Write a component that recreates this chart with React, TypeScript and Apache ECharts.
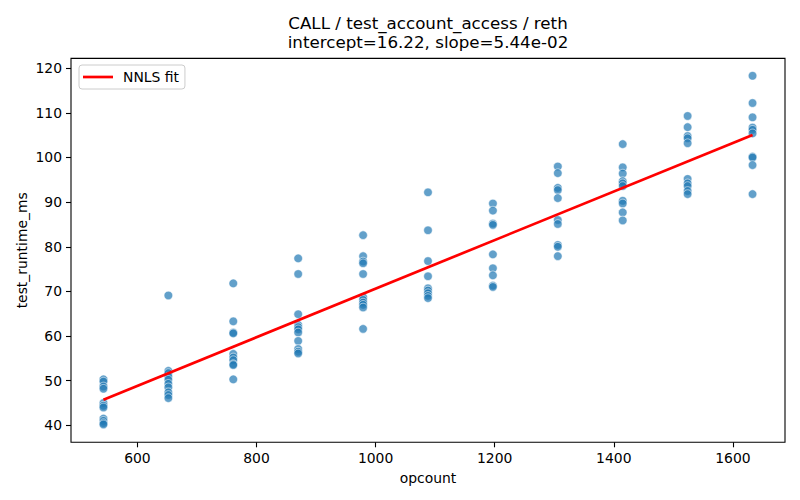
import React, { useEffect, useRef } from "react";
import * as echarts from "echarts";

const OPCOUNTS = [543, 652, 761, 870, 979, 1088, 1197, 1306, 1415, 1524, 1633];
const RUNTIMES: number[][] = [
  [50.3, 49.8, 48.7, 48.2, 45.0, 44.4, 44.0, 41.5, 41.0, 40.5, 40.2],
  [69.1, 52.2, 51.7, 50.9, 50.2, 49.3, 48.5, 47.4, 46.8, 46.1],
  [71.8, 63.3, 60.8, 60.6, 56.0, 55.2, 54.6, 53.7, 53.5, 50.3],
  [77.4, 73.9, 64.9, 62.5, 62.0, 61.5, 60.8, 58.9, 57.1, 56.5, 56.1],
  [82.6, 77.9, 76.7, 76.3, 73.9, 68.7, 68.1, 67.5, 67.0, 66.4, 61.6],
  [92.2, 83.7, 76.8, 73.4, 70.7, 70.2, 69.6, 69.0, 68.5],
  [89.7, 88.1, 85.2, 84.9, 78.3, 75.2, 73.6, 71.3, 71.0],
  [98.0, 96.5, 93.2, 92.7, 90.9, 86.0, 85.1, 80.4, 80.0, 77.9],
  [103.0, 97.8, 96.4, 94.7, 94.2, 93.6, 90.3, 89.7, 87.7, 85.9],
  [109.3, 106.8, 104.8, 104.3, 103.2, 95.2, 94.2, 93.6, 92.5, 91.8],
  [118.3, 112.2, 109.0, 106.7, 106.2, 105.4, 100.2, 100.0, 98.3, 91.8],
];
const INTERCEPT = 16.22;
const SLOPE = 0.0544;
const FIT_X = [543, 1633];
const X_TICKS = [600, 800, 1000, 1200, 1400, 1600];
const Y_TICKS = [40, 50, 60, 70, 80, 90, 100, 110, 120];
const TITLE = "CALL / test_account_access / reth\nintercept=16.22, slope=5.44e-02";

const FONT = "DejaVu Sans";

export default function App() {
  const ref = useRef<HTMLDivElement>(null);
  useEffect(() => {
    if (!ref.current) return;
    const chart = echarts.init(ref.current, null, { renderer: "svg" });
    const scatterData: number[][] = [];
    OPCOUNTS.forEach((x, i) => RUNTIMES[i].forEach((y) => scatterData.push([x, y])));
    const fitData = FIT_X.map((x) => [x, INTERCEPT + SLOPE * x]);
    chart.setOption({
      animation: false,
      backgroundColor: "#ffffff",
      textStyle: { fontFamily: FONT },
      title: {
        text: TITLE,
        left: 428,
        top: 13,
        padding: 0,
        textAlign: "center",
        textStyle: { fontFamily: FONT, fontSize: 16.7, fontWeight: "normal", color: "#000", lineHeight: 19.5 },
      },
      legend: {
        left: 79,
        top: 65,
        orient: "vertical",
        padding: [5, 6, 5, 4],
        borderColor: "#cccccc",
        borderWidth: 1,
        borderRadius: 3,
        backgroundColor: "rgba(255,255,255,0.8)",
        icon: "rect",
        itemWidth: 30,
        itemHeight: 2.7,
        textStyle: { fontFamily: FONT, fontSize: 13.9, color: "#000", padding: [0, 0, 0, 5] },
        data: [{ name: "NNLS fit", itemStyle: { color: "#ff0000" } }],
      },
      grid: {
        left: 71,
        right: 15,
        top: 58.4,
        bottom: 57.7,
        show: true,
        borderColor: "#000",
        borderWidth: 1.1,
        backgroundColor: "transparent",
      },
      xAxis: {
        type: "value",
        min: 488.5,
        max: 1687.5,
        name: "opcount",
        nameLocation: "middle",
        nameGap: 29,
        nameMoveOverlap: false,
        nameTextStyle: { fontFamily: FONT, fontSize: 13.9, color: "#000" },
        axisLine: { show: false },
        splitLine: { show: false },
        axisTick: { show: true, length: 5, lineStyle: { color: "#000", width: 1.1 }, customValues: X_TICKS },
        axisLabel: {
          fontFamily: FONT,
          fontSize: 13.9,
          color: "#000",
          margin: 9,
          customValues: X_TICKS,
          formatter: (v: number) => String(v),
        },
      },
      yAxis: {
        type: "value",
        min: 36.2,
        max: 122.2,
        name: "test_runtime_ms",
        nameLocation: "middle",
        nameRotate: 90,
        nameGap: 42,
        nameMoveOverlap: false,
        nameTextStyle: { fontFamily: FONT, fontSize: 13.9, color: "#000" },
        axisLine: { show: false },
        splitLine: { show: false },
        axisTick: { show: true, length: 5, lineStyle: { color: "#000", width: 1.1 }, customValues: Y_TICKS },
        axisLabel: {
          fontFamily: FONT,
          fontSize: 13.9,
          color: "#000",
          margin: 9,
          customValues: Y_TICKS,
          formatter: (v: number) => String(v),
        },
      },
      series: [
        {
          type: "scatter",
          name: "points",
          data: scatterData,
          symbolSize: 8.6,
          itemStyle: { color: "#1f77b4", opacity: 0.7, borderColor: "#ffffff", borderWidth: 0.8 },
          z: 2,
        },
        {
          type: "line",
          name: "NNLS fit",
          data: fitData,
          showSymbol: false,
          symbol: "none",
          lineStyle: { color: "#ff0000", width: 2.7 },
          itemStyle: { color: "#ff0000" },
          z: 3,
        },
      ],
    });
    return () => chart.dispose();
  }, []);
  return <div ref={ref} style={{ position: "absolute", left: 0, top: 0, width: 800, height: 500 }} />;
}
